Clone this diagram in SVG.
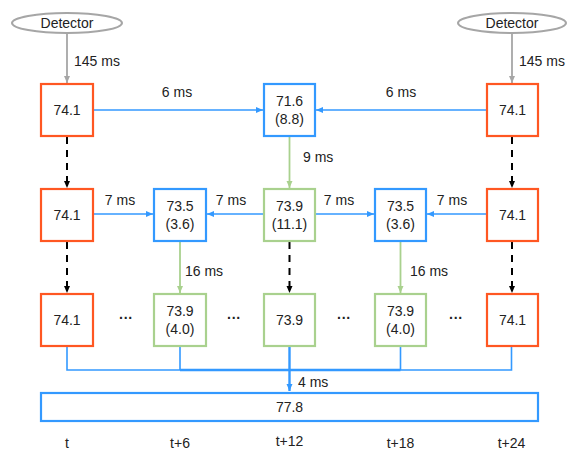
<svg xmlns="http://www.w3.org/2000/svg" width="567" height="452" viewBox="0 0 567 452">
<style>
text{font-family:"Liberation Sans",Arial,sans-serif;font-size:14px;fill:#222;text-anchor:middle}
.o{fill:#fff;stroke:#FF5722;stroke-width:2.2}
.b{fill:#fff;stroke:#3399FF;stroke-width:2.2}
.g{fill:#fff;stroke:#A9D18E;stroke-width:2.2}
.det{fill:#fff;stroke:#A6A6A6;stroke-width:2}
.lb{stroke:#3399FF;stroke-width:1.6;fill:none}
.lg{stroke:#A9D18E;stroke-width:1.8;fill:none}
.lk{stroke:#000;stroke-width:2;stroke-dasharray:7,6;fill:none}
.la{stroke:#A6A6A6;stroke-width:1.8;fill:none}
.l{text-anchor:start}
</style>
<defs>
<marker id="ab" markerWidth="8" markerHeight="8" refX="7" refY="4" orient="auto" markerUnits="userSpaceOnUse"><path d="M0,1 L7,4 L0,7 Z" fill="#3399FF"/></marker>
<marker id="ag" markerWidth="8" markerHeight="8" refX="7" refY="4" orient="auto" markerUnits="userSpaceOnUse"><path d="M0,1 L7,4 L0,7 Z" fill="#A9D18E"/></marker>
<marker id="ak" markerWidth="8" markerHeight="8" refX="7" refY="4" orient="auto" markerUnits="userSpaceOnUse"><path d="M0,1 L7,4 L0,7 Z" fill="#000"/></marker>
<marker id="aa" markerWidth="8" markerHeight="8" refX="7" refY="4" orient="auto" markerUnits="userSpaceOnUse"><path d="M0,1 L7,4 L0,7 Z" fill="#A6A6A6"/></marker>
</defs>
<g id="connectors">
<line class="la" x1="67" y1="33" x2="67" y2="83" marker-end="url(#aa)"/>
<line class="la" x1="512" y1="33" x2="512" y2="83" marker-end="url(#aa)"/>
<line class="lb" x1="94" y1="110" x2="263" y2="110" marker-end="url(#ab)"/>
<line class="lb" x1="486" y1="110" x2="316" y2="110" marker-end="url(#ab)"/>
<line class="lg" x1="289.5" y1="137" x2="289.5" y2="188" marker-end="url(#ag)"/>
<line class="lb" x1="94" y1="214" x2="153" y2="214" marker-end="url(#ab)"/>
<line class="lb" x1="263" y1="214" x2="207" y2="214" marker-end="url(#ab)"/>
<line class="lb" x1="316" y1="214" x2="374" y2="214" marker-end="url(#ab)"/>
<line class="lb" x1="486" y1="214" x2="427" y2="214" marker-end="url(#ab)"/>
<line class="lg" x1="180" y1="242" x2="180" y2="293" marker-end="url(#ag)"/>
<line class="lg" x1="400.5" y1="242" x2="400.5" y2="293" marker-end="url(#ag)"/>
<line class="lk" x1="67" y1="137" x2="67" y2="188" marker-end="url(#ak)"/>
<line class="lk" x1="512" y1="137" x2="512" y2="188" marker-end="url(#ak)"/>
<line class="lk" x1="67" y1="242" x2="67" y2="293" marker-end="url(#ak)"/>
<line class="lk" x1="512" y1="242" x2="512" y2="293" marker-end="url(#ak)"/>
<line class="lk" x1="289.5" y1="242" x2="289.5" y2="293" marker-end="url(#ak)"/>
<path class="lb" d="M67,347 V370 H511.5 V347 M180,347 V370 M400.5,347 V370"/>
<line class="lb" x1="180" y1="370" x2="400.5" y2="370" style="stroke-width:2.4"/>
<line class="lb" x1="289.5" y1="347" x2="289.5" y2="391" style="stroke-width:2.4" marker-end="url(#ab)"/>
<text class="l" x="74" y="66">145 ms</text>
<text class="l" x="519" y="66">145 ms</text>
<text x="177" y="97">6 ms</text>
<text x="401" y="97">6 ms</text>
<text class="l" x="303" y="162">9 ms</text>
<text x="120" y="205">7 ms</text>
<text x="231" y="205">7 ms</text>
<text x="339" y="205">7 ms</text>
<text x="452" y="205">7 ms</text>
<text class="l" x="185" y="276">16 ms</text>
<text class="l" x="410" y="276">16 ms</text>
<text class="l" x="298" y="387">4 ms</text>
</g>
<g id="det1"><ellipse class="det" cx="67" cy="23" rx="55" ry="10"/><text x="67" y="28">Detector</text></g>
<g id="det2"><ellipse class="det" cx="512" cy="23" rx="54" ry="10"/><text x="512" y="28">Detector</text></g>
<g id="n11"><rect class="o" x="41" y="84" width="52" height="52"/><text x="67" y="115">74.1</text></g>
<g id="n13"><rect class="b" x="264" y="84" width="51" height="52"/><text x="289.5" y="106">71.6</text><text x="289.5" y="124">(8.8)</text></g>
<g id="n15"><rect class="o" x="487" y="84" width="51" height="52"/><text x="512.5" y="115">74.1</text></g>
<g id="n21"><rect class="o" x="41" y="189" width="52" height="52"/><text x="67" y="220">74.1</text></g>
<g id="n22"><rect class="b" x="154" y="189" width="52" height="52"/><text x="180" y="211">73.5</text><text x="180" y="229">(3.6)</text></g>
<g id="n23"><rect class="g" x="264" y="189" width="51" height="52"/><text x="289.5" y="211">73.9</text><text x="289.5" y="229">(11.1)</text></g>
<g id="n24"><rect class="b" x="375" y="189" width="51" height="52"/><text x="400.5" y="211">73.5</text><text x="400.5" y="229">(3.6)</text></g>
<g id="n25"><rect class="o" x="487" y="189" width="51" height="52"/><text x="512.5" y="220">74.1</text></g>
<g id="n31"><rect class="o" x="41" y="294" width="52" height="52"/><text x="67" y="325">74.1</text></g>
<g id="n32"><rect class="g" x="154" y="294" width="52" height="52"/><text x="180" y="316">73.9</text><text x="180" y="334">(4.0)</text></g>
<g id="n33"><rect class="g" x="264" y="294" width="51" height="52"/><text x="289.5" y="325">73.9</text></g>
<g id="n34"><rect class="g" x="375" y="294" width="51" height="52"/><text x="400.5" y="316">73.9</text><text x="400.5" y="334">(4.0)</text></g>
<g id="n35"><rect class="o" x="487" y="294" width="51" height="52"/><text x="512.5" y="325">74.1</text></g>
<g id="dots" style="font-weight:bold">
<text x="126" y="323">···</text>
<text x="234" y="323">···</text>
<text x="344" y="323">···</text>
<text x="456" y="323">···</text>
</g>
<g id="final"><rect class="b" x="41" y="393" width="497" height="28"/><text x="289.5" y="412">77.8</text></g>
<g id="times">
<text x="67" y="448">t</text>
<text x="180" y="448">t+6</text>
<text x="289.5" y="446">t+12</text>
<text x="400.5" y="448">t+18</text>
<text x="511.5" y="448">t+24</text>
</g>
</svg>
